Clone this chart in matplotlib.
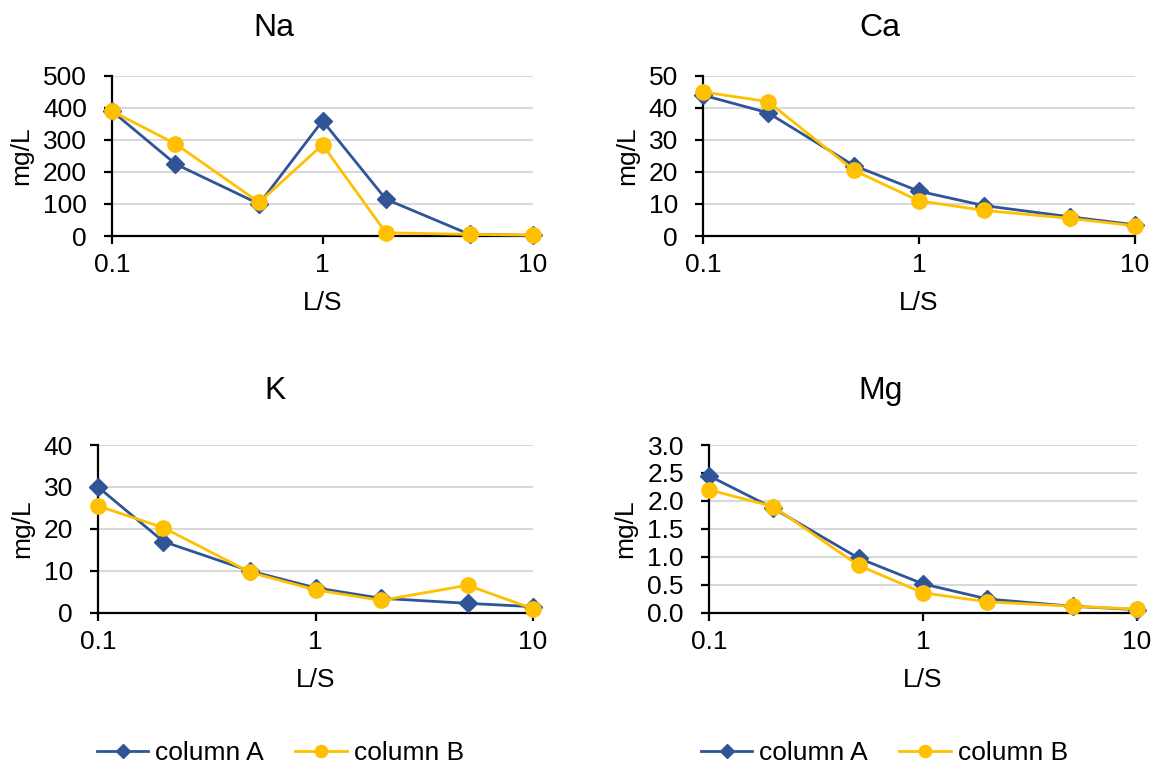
import matplotlib
matplotlib.use("Agg")
import matplotlib.pyplot as plt
from matplotlib.ticker import FixedLocator, FixedFormatter

plt.rcParams['font.family'] = ['Liberation Sans', 'DejaVu Sans']

ls_ratio = [0.1, 0.2, 0.5, 1, 2, 5, 10]

na_a = [390, 225, 100, 360, 115, 5, 2]
na_b = [390, 288, 105, 285, 10, 5, 3]
ca_a = [44, 38.5, 22, 14, 9.5, 6, 3.5]
ca_b = [45, 42, 20.5, 11, 8, 5.5, 3.2]
k_a = [30, 17, 10, 6, 3.5, 2.3, 1.5]
k_b = [25.5, 20.3, 9.7, 5.5, 3, 6.6, 1]
mg_a = [2.45, 1.87, 0.98, 0.52, 0.25, 0.12, 0.06]
mg_b = [2.2, 1.9, 0.85, 0.36, 0.2, 0.12, 0.07]

BLUE = "#2F5597"
YELLOW = "#FFC000"

fig = plt.figure(figsize=(11.6, 7.65), dpi=100)

# title, series A, series B, y ticks, tick format, axes rect, title x, title pad
panels = [
  ("Na", na_a, na_b, [0, 100, 200, 300, 400, 500], "{:.0f}",
   [0.0966, 0.6915, 0.3629, 0.2092], 0.385, 29),
  ("Ca", ca_a, ca_b, [0, 10, 20, 30, 40, 50], "{:.0f}",
   [0.606, 0.6915, 0.3724, 0.2092], 0.41, 29),
  ("K", k_a, k_b, [0, 10, 20, 30, 40], "{:.0f}",
   [0.0845, 0.1987, 0.375, 0.2196], 0.407, 33),
  ("Mg", mg_a, mg_b, [0, 0.5, 1.0, 1.5, 2.0, 2.5, 3.0], "{:.1f}",
   [0.6112, 0.1987, 0.369, 0.2196], 0.40, 33),
]

axes = []
for title, a, b, yticks, fmt, rect, tx, tpad in panels:
  ax = fig.add_axes(rect)
  ax.plot(ls_ratio, a, color=BLUE, marker="D", markersize=9, linewidth=2,
          label="column A", clip_on=False, zorder=3)
  ax.plot(ls_ratio, b, color=YELLOW, marker="o", markersize=11, linewidth=2,
          label="column B", clip_on=False, zorder=4)
  ax.set_xscale("log")
  ax.set_xlim(0.1, 10)
  ax.set_ylim(yticks[0], yticks[-1])
  ax.xaxis.set_major_locator(FixedLocator([0.1, 1, 10]))
  ax.xaxis.set_major_formatter(FixedFormatter(["0.1", "1", "10"]))
  ax.xaxis.set_minor_locator(FixedLocator([]))
  ax.set_yticks(yticks)
  ax.set_yticklabels([fmt.format(v) for v in yticks])
  ax.yaxis.grid(True, color="#d9d9d9", linewidth=1.5)
  ax.set_axisbelow(True)
  for s in ["top", "right"]:
    ax.spines[s].set_visible(False)
  ax.spines["left"].set_linewidth(1.6)
  ax.spines["bottom"].set_linewidth(1.6)
  ax.tick_params(axis="both", labelsize=19, length=6, width=1.6, direction="out")
  ax.tick_params(axis="x", pad=6.5)
  ax.tick_params(axis="y", pad=12)
  ax.set_title(title, fontsize=23, pad=tpad, x=tx)
  ax.set_xlabel("L/S", fontsize=19, labelpad=10)
  ax.set_ylabel("mg/L", fontsize=19, labelpad=7)
  axes.append(ax)

for ax, x in [(axes[2], 0.0836), (axes[3], 0.6043)]:
  handles, labels = ax.get_legend_handles_labels()
  fig.legend(handles, labels, loc="center left", bbox_to_anchor=(x, 0.0157),
             ncol=2, frameon=False, fontsize=19, handlelength=1.95,
             columnspacing=1.2, handletextpad=0.25, borderpad=0,
             borderaxespad=0, markerscale=0.8)

fig.savefig("out.png", dpi=100)
